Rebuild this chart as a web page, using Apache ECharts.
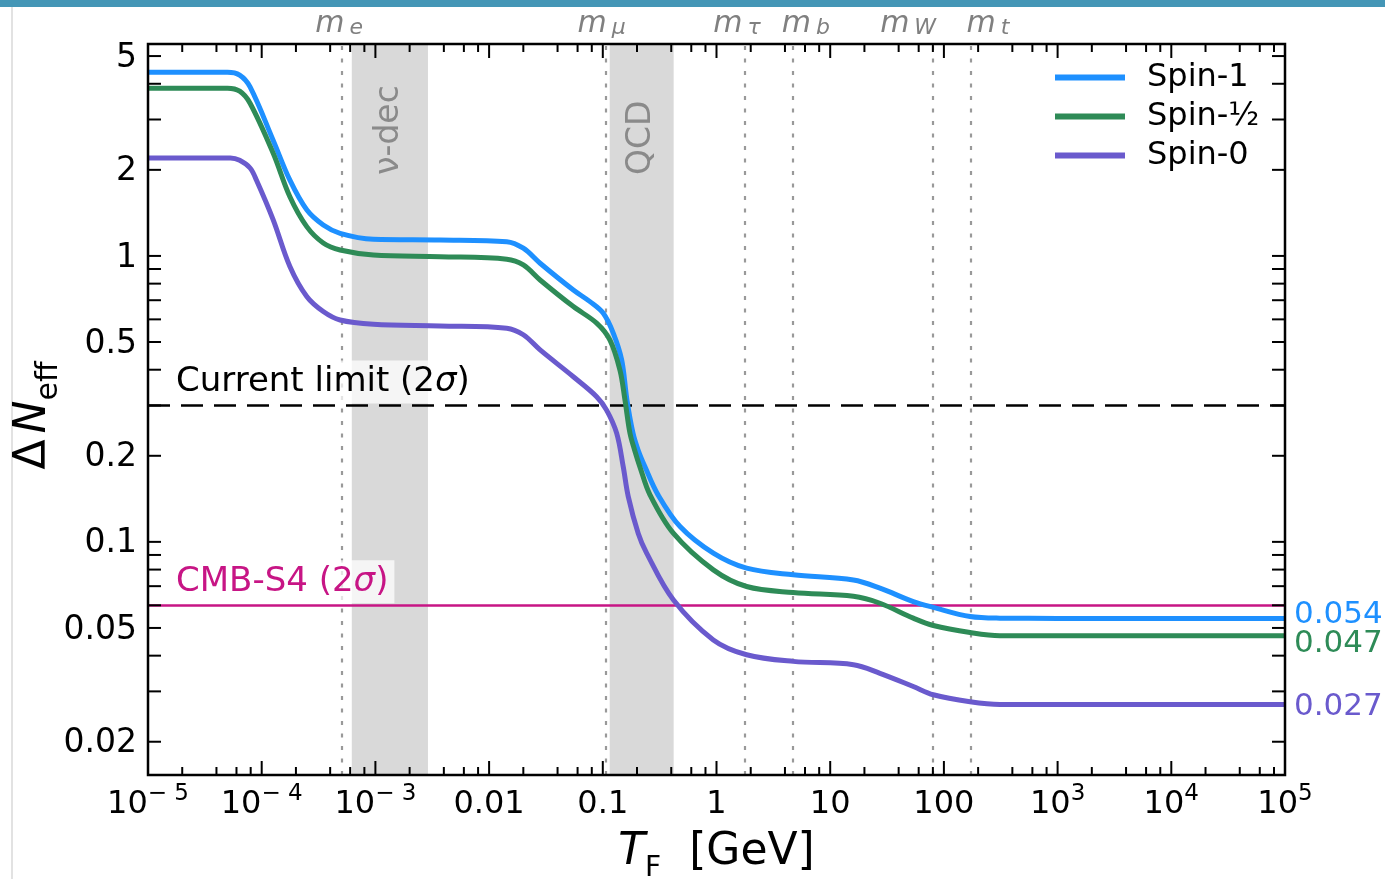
<!DOCTYPE html>
<html><head><meta charset="utf-8">
<script src="https://cdn.jsdelivr.net/npm/echarts@6/dist/echarts.min.js"></script>
<style>
html,body{margin:0;padding:0;background:#fff;}
#vline{position:absolute;left:11px;top:7px;width:2px;height:872px;background:#e2e2e2;}
#chart{position:absolute;left:0;top:0;width:1385px;height:879px;}
#topbar{position:absolute;left:0;top:0;width:1385px;height:7px;background:#4496b6;}
</style></head><body>
<div id="vline"></div><div id="chart"></div><div id="topbar"></div>
<script>
// ---------------- data ----------------
const seriesNames = ['Spin-1', 'Spin-\u00BD', 'Spin-0'];
const seriesColors = ['#1E90FF', '#2E8B57', '#6A5ACD'];
const spin1 = [[1e-5,4.39],[5.0e-5,4.39],[6.4e-5,4.29],[7.9e-5,3.9],[1.26e-4,2.54],[1.77e-4,1.84],[2.49e-4,1.45],[3.48e-4,1.283],[4.89e-4,1.20],[9.6e-4,1.144],[3.7e-3,1.137],[0.0143,1.122],[0.020,1.064],[0.0281,0.943],[0.0551,0.760],[0.0771,0.692],[0.101,0.630],[0.1236,0.537],[0.1465,0.433],[0.163,0.314],[0.1843,0.240],[0.204,0.210],[0.235,0.183],[0.306,0.146],[0.478,0.1131],[0.938,0.0913],[1.84,0.0809],[4.73,0.0767],[16.0,0.0736],[27.4,0.0689],[53.8,0.0618],[80.7,0.059],[170,0.0548],[311,0.0541],[1000,0.054],[1e5,0.054]];
const spinHalf = [[1e-5,3.86],[5.0e-5,3.86],[6.4e-5,3.77],[7.9e-5,3.42],[1.26e-4,2.29],[1.77e-4,1.61],[2.49e-4,1.266],[3.48e-4,1.11],[4.89e-4,1.049],[9.6e-4,1.008],[3.7e-3,0.994],[0.0143,0.974],[0.020,0.930],[0.0281,0.824],[0.0551,0.665],[0.0883,0.582],[0.1156,0.508],[0.1415,0.399],[0.1566,0.314],[0.1733,0.240],[0.190,0.210],[0.212,0.183],[0.26,0.146],[0.417,0.1072],[0.938,0.0798],[1.84,0.0698],[4.73,0.0665],[16.0,0.0645],[27.4,0.061],[53.8,0.0541],[80.7,0.051],[170,0.0482],[311,0.047],[1000,0.047],[1e5,0.047]];
const spin0 = [[1e-5,2.20],[5.3e-5,2.20],[6.4e-5,2.16],[7.9e-5,2.03],[9.0e-5,1.84],[1.26e-4,1.34],[1.77e-4,0.918],[2.49e-4,0.721],[3.48e-4,0.639],[4.89e-4,0.597],[9.6e-4,0.577],[3.7e-3,0.569],[0.0143,0.559],[0.020,0.530],[0.0281,0.469],[0.0551,0.378],[0.0883,0.322],[0.108,0.289],[0.1324,0.240],[0.1513,0.183],[0.1675,0.144],[0.205,0.107],[0.243,0.0913],[0.417,0.0627],[0.938,0.0454],[1.84,0.0403],[4.73,0.0382],[16.0,0.0372],[27.4,0.0347],[53.8,0.0312],[80.7,0.0292],[170,0.0276],[311,0.027],[1000,0.027],[1e5,0.027]];

const massValues = [0.000511, 0.1057, 1.777, 4.7, 80.4, 173];
const massSubs = ['e', '\u03BC', '\u03C4', 'b', 'W', 't'];
const nuDecBand = [6.2e-4, 2.9e-3];
const qcdBand = [0.115, 0.42];
const bandLabels = ['\u03BD-dec', 'QCD'];
const currentLimit = 0.3;
const cmbS4 = 0.06;

const xTickValues = [1e-5,1e-4,1e-3,1e-2,1e-1,1,10,100,1e3,1e4,1e5];
const xTickLabels = ['10^\u22125','10^\u22124','10^\u22123','0.01','0.1','1','10','100','10^3','10^4','10^5'];
const xMinorTicks = [2e-5,4e-5,6e-5,8e-5,2e-4,4e-4,6e-4,8e-4,2e-3,4e-3,6e-3,8e-3,0.02,0.04,0.06,0.08,0.2,0.4,0.6,0.8,2,4,6,8,20,40,60,80,200,400,600,800,2e3,4e3,6e3,8e3,2e4,4e4,6e4,8e4];
const yTickValues = [0.02,0.03,0.04,0.05,0.06,0.07,0.08,0.09,0.1,0.2,0.3,0.4,0.5,0.6,0.7,0.8,0.9,1,2,3,4,5];
const yLabelValues = [0.02,0.05,0.1,0.2,0.5,1,2,5];
const yLabelTexts = ['0.02','0.05','0.1','0.2','0.5','1','2','5'];

// ---------------- chart ----------------
const FONT = 'DejaVu Sans';
const chart = echarts.init(document.getElementById('chart'), null, {renderer: 'canvas'});

function xLabelFmt(v) {
  const i = xTickValues.findIndex(t => Math.abs(Math.log10(t) - Math.log10(v)) < 1e-6);
  if (i < 0) return '';
  const parts = xTickLabels[i].split('^');
  if (parts.length > 1) return '{b|' + parts[0] + '}{p|' + parts[1].replace('\u2212', '\u2212 ') + '}';
  return '{b|' + parts[0] + '}';
}

const massLabelOffsets = [[-3, 0], [-4, 0], [-8, 0], [13, 0], [-25, 0], [17, 0]];

function tickSeries(values, axis, len) {
  return {
    type: 'custom', silent: true, z: 8, clip: false,
    data: values.map(v => axis === 'x' ? [v, 1] : [1, v]),
    renderItem: (params, api) => {
      const cs = params.coordSys;
      const p = api.coord([api.value(0), api.value(1)]);
      const st = {stroke: '#000', lineWidth: 2};
      if (axis === 'x') {
        const b = cs.y + cs.height, t = cs.y;
        return {type: 'group', children: [
          {type: 'line', shape: {x1: p[0], y1: b, x2: p[0], y2: b - len}, style: st},
          {type: 'line', shape: {x1: p[0], y1: t, x2: p[0], y2: t + len}, style: st}]};
      }
      const l = cs.x, r = cs.x + cs.width;
      return {type: 'group', children: [
        {type: 'line', shape: {x1: l, y1: p[1], x2: l + len, y2: p[1]}, style: st},
        {type: 'line', shape: {x1: r, y1: p[1], x2: r - len, y2: p[1]}, style: st}]};
    }
  };
}

const endLabelDy = [-3, 8, 2];
const curveSeries = [spin1, spinHalf, spin0].map((d, i) => ({
  name: seriesNames[i], type: 'line', data: d, showSymbol: false, symbol: 'none',
  smooth: 0.35, z: 5,
  itemStyle: {color: seriesColors[i]},
  lineStyle: {color: seriesColors[i], width: 5},
  endLabel: {show: true, formatter: p => String(p.value[1]), color: seriesColors[i],
    fontSize: 31, fontFamily: FONT, distance: 9, offset: [0, endLabelDy[i]]}
}));

const labelStyleBase = {fontSize: 34, fontFamily: FONT, lineHeight: 38,
  backgroundColor: 'rgba(255,255,255,0.72)', padding: [3, 6, 2, 6]};

const option = {
  animation: false,
  backgroundColor: 'transparent',
  textStyle: {fontFamily: FONT},
  grid: {left: 148, right: 100, top: 44, bottom: 104, show: true, borderColor: '#000', borderWidth: 2.5, z: 10,
    containLabel: false, outerBoundsMode: 'none'},
  legend: {
    data: seriesNames, orient: 'vertical', left: 1055, top: 58, padding: 0, itemGap: 0,
    icon: 'rect', itemWidth: 70, itemHeight: 6,
    textStyle: {fontSize: 32, fontFamily: FONT, color: '#000', lineHeight: 39, padding: [0, 0, 0, 17]}
  },
  xAxis: {
    type: 'log', logBase: 10, min: 1e-5, max: 1e5, interval: 1,
    axisLine: {show: false}, axisTick: {show: false}, splitLine: {show: false},
    axisLabel: {
      show: true, interval: 0, margin: 8, showMinLabel: true, showMaxLabel: true, hideOverlap: false,
      formatter: xLabelFmt, color: '#000',
      rich: {
        b: {fontSize: 32, fontFamily: FONT, color: '#000', lineHeight: 38, verticalAlign: 'bottom'},
        p: {fontSize: 23, fontFamily: FONT, color: '#000', lineHeight: 22, verticalAlign: 'top'}
      }
    },
    name: '{t|T}{f|F}{g|  [GeV]}', nameLocation: 'middle', nameGap: 56,
    nameTextStyle: {rich: {
      t: {fontSize: 44, fontStyle: 'italic', fontFamily: FONT, color: '#000', lineHeight: 52, verticalAlign: 'top'},
      f: {fontSize: 28, fontFamily: FONT, color: '#000', lineHeight: 51, verticalAlign: 'bottom'},
      g: {fontSize: 44, fontFamily: FONT, color: '#000', lineHeight: 52, verticalAlign: 'top'}
    }}
  },
  yAxis: {
    type: 'log', logBase: 10, min: 0.0153, max: 5.51,
    axisLine: {show: false}, axisTick: {show: false}, splitLine: {show: false}, axisLabel: {show: false},
    name: '{d|\u0394}{n|N}{s|eff}', nameLocation: 'middle', nameRotate: 90, nameGap: 84,
    nameTextStyle: {padding: [0, 12, 0, 0], rich: {
      d: {fontSize: 44, fontFamily: FONT, color: '#000', lineHeight: 52, verticalAlign: 'top', padding: [0, 6, 0, 0]},
      n: {fontSize: 44, fontStyle: 'italic', fontFamily: FONT, color: '#000', lineHeight: 52, verticalAlign: 'top'},
      s: {fontSize: 30, fontFamily: FONT, color: '#000', lineHeight: 40, verticalAlign: 'bottom'}
    }}
  },
  series: [
    { // shaded bands
      type: 'line', data: [[1, 1]], symbol: 'none', lineStyle: {opacity: 0}, silent: true, z: 1,
      markArea: {silent: true, itemStyle: {color: '#d9d9d9'}, label: {show: false},
        data: [[{xAxis: nuDecBand[0]}, {xAxis: nuDecBand[1]}], [{xAxis: qcdBand[0]}, {xAxis: qcdBand[1]}]]}
    },
    { // particle mass lines
      type: 'line', data: [[1, 1]], symbol: 'none', lineStyle: {opacity: 0}, silent: true, z: 2,
      markLine: {silent: true, symbol: ['none', 'none'], precision: 12,
        lineStyle: {color: '#999999', width: 2.2, type: [4, 8.5]},
        label: {show: true, position: 'end', distance: 5, color: '#808080',
          rich: {
            m: {fontSize: 30, fontStyle: 'italic', fontFamily: FONT, color: '#808080', lineHeight: 30, verticalAlign: 'top'},
            s: {fontSize: 22, fontStyle: 'italic', fontFamily: FONT, color: '#808080', lineHeight: 24, verticalAlign: 'bottom', padding: [0, 0, 0, 5]}
          }},
        data: massValues.map((v, i) => ({xAxis: v,
          label: {formatter: '{m|m}{s|' + massSubs[i] + '}', offset: massLabelOffsets[i]}}))}
    },
    { // reference limits
      type: 'line', data: [[1, 1]], symbol: 'none', lineStyle: {opacity: 0}, silent: true, z: 3,
      markLine: {silent: true, symbol: ['none', 'none'], precision: 12,
        data: [
          {yAxis: currentLimit, lineStyle: {color: '#000', width: 2.5, type: [22, 11]},
           label: Object.assign({show: true, position: 'insideStartTop', distance: 2, formatter: 'Current limit (2{i|\u03C3})',
             color: '#000', offset: [20, 0],
             rich: {i: {fontSize: 34, fontStyle: 'italic', fontFamily: FONT, color: '#000'}}}, labelStyleBase)},
          {yAxis: cmbS4, lineStyle: {color: '#C71585', width: 2.5, type: 'solid'},
           label: Object.assign({show: true, position: 'insideStartTop', distance: 2, formatter: 'CMB-S4 (2{i|\u03C3})',
             color: '#C71585', offset: [20, 0],
             rich: {i: {fontSize: 34, fontStyle: 'italic', fontFamily: FONT, color: '#C71585'}}}, labelStyleBase)}
        ]}
    },
    ...curveSeries,
    tickSeries(xTickValues, 'x', 14),
    tickSeries(xMinorTicks, 'x', 8),
    tickSeries(yTickValues, 'y', 13),
    { // y tick labels
      type: 'custom', silent: true, z: 8, clip: false,
      data: yLabelValues.map(v => [1, v]),
      renderItem: (params, api) => {
        const cs = params.coordSys;
        const p = api.coord([api.value(0), api.value(1)]);
        return {type: 'text', style: {text: yLabelTexts[params.dataIndex], x: cs.x - 11, y: p[1] + 2,
          align: 'right', verticalAlign: 'middle', font: '33px "DejaVu Sans"', fill: '#000'}};
      }
    }
  ]
};
chart.setOption(option);

// band labels, positioned through the axis scales
const labelAnchorY = chart.convertToPixel({yAxisIndex: 0}, 1.92);
const bandGraphics = [nuDecBand, qcdBand].map((b, i) => ({
  type: 'text', z: 4,
  x: chart.convertToPixel({xAxisIndex: 0}, Math.sqrt(b[0] * b[1])), y: labelAnchorY,
  rotation: Math.PI / 2,
  style: {text: bandLabels[i], font: '33px "DejaVu Sans"', fill: '#8a8a8a', align: 'left', verticalAlign: 'middle'}
}));
chart.setOption({graphic: bandGraphics});
</script>
</body></html>
